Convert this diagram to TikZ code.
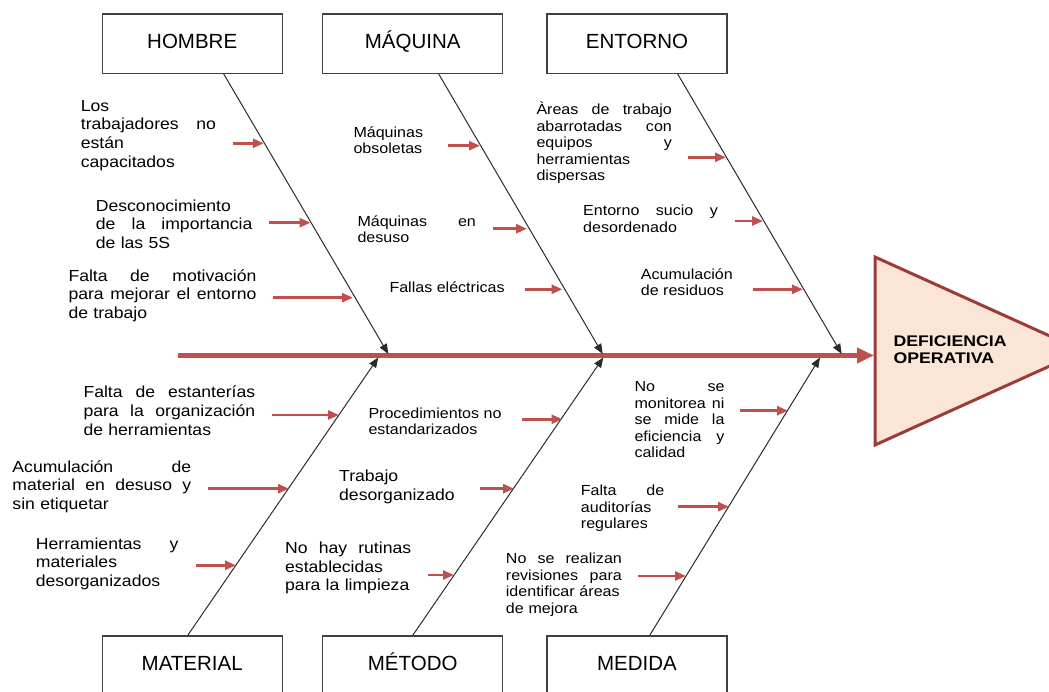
\documentclass[tikz,border=0pt]{standalone}
\usepackage{fontspec}
\setmainfont{Liberation Sans}
\newfontfamily\causefont[FakeStretch=1.1]{Liberation Sans}
\newfontfamily\effectfont[FakeStretch=1.15]{Liberation Sans}
\usepackage{tikz}
\usetikzlibrary{arrows.meta}
\definecolor{spinered}{HTML}{C0504D}
\definecolor{headfill}{HTML}{FBE5D6}
\definecolor{headdraw}{HTML}{9C3B38}
\definecolor{bonegray}{HTML}{2B2B2B}
\definecolor{boxgray}{HTML}{404040}
\pgfdeclarelayer{edgelayer}
\pgfdeclarelayer{nodelayer}
\pgfsetlayers{edgelayer,nodelayer,main}
\tikzstyle{none}=[inner sep=0pt]
\tikzstyle{catbox}=[rectangle,draw=boxgray,line width=1.2,fill=white,minimum width=180,minimum height=59.3,inner sep=0pt,text height=14.7pt,text depth=5.8pt,font=\fontsize{20.5}{24}\selectfont]
\tikzstyle{bigcause}=[inner sep=0pt,anchor=north west,align=left,font=\causefont\fontsize{16}{18.6}\selectfont]
\tikzstyle{smallcause}=[inner sep=0pt,anchor=north west,align=left,font=\causefont\fontsize{14.6}{16.5}\selectfont]
\tikzstyle{effect}=[inner sep=0pt,anchor=north west,align=left,font=\effectfont\bfseries\fontsize{15.4}{16.8}\selectfont]
\tikzstyle{headtri}=[fill=headfill,draw=headdraw,line width=3,line join=miter]
\tikzstyle{spine}=[->,>={Triangle[length=17pt,width=15pt]},draw=spinered,line width=4.5]
\tikzstyle{bone}=[->,>={Triangle[length=10pt,width=8pt]},draw=bonegray,line width=1.0]
\tikzstyle{causearrow}=[->,>={Triangle[length=11pt,width=9pt]},draw=spinered,line width=2.6]

\begin{document}
\begin{tikzpicture}[x=1pt,y=-1pt]
	\useasboundingbox (0,0) rectangle (1049,692);
	\begin{pgfonlayer}{nodelayer}
		% category boxes
		\node [style=catbox] (hom) at (192.2,43.7) {HOMBRE};
		\node [style=catbox] (maq) at (412.7,43.7) {MÁQUINA};
		\node [style=catbox] (ent) at (637,43.7) {ENTORNO};
		\node [style=catbox] (mat) at (192.2,665.7) {MATERIAL};
		\node [style=catbox] (met) at (412.7,665.7) {MÉTODO};
		\node [style=catbox] (med) at (637,665.7) {MEDIDA};

		% bone ends
		\node [style=none] (homS) at (223.3,73.3) {};
		\node [style=none] (homT) at (388.3,354) {};
		\node [style=none] (maqS) at (438.3,73.3) {};
		\node [style=none] (maqT) at (602.7,354) {};
		\node [style=none] (entS) at (677.3,73.3) {};
		\node [style=none] (entT) at (841.7,354) {};
		\node [style=none] (matS) at (187.3,636) {};
		\node [style=none] (matT) at (378.3,357.5) {};
		\node [style=none] (metS) at (412.3,636) {};
		\node [style=none] (metT) at (603.3,357.5) {};
		\node [style=none] (medS) at (649.3,636) {};
		\node [style=none] (medT) at (820,357.5) {};

		% spine and head
		\node [style=none] (sp0) at (178.3,355.5) {};
		\node [style=none] (sp1) at (874,355.5) {};
		\node [style=none] (Htl) at (875,257) {};
		\node [style=none] (Hbl) at (875,445) {};
		\node [style=none] (Hap) at (1083,351) {};
		\node [style=effect] (eff) at (893.3,336) {DEFICIENCIA\\OPERATIVA};

		% HOMBRE
		\node [style=bigcause,text width=135] (h1) at (80.7,100) {Los\\ trabajadores\hfill no\\ están\\ capacitados};
		\node [style=bigcause,text width=156.5] (h2) at (95.7,199.3) {Desconocimiento\\ de\hfill la\hfill importancia\\ de las 5S};
		\node [style=bigcause,text width=188] (h3) at (68.3,269.3) {Falta\hfill de\hfill motivación\\ para\hfill mejorar\hfill el\hfill entorno\\ de trabajo};
		\node [style=none] (h1a) at (232.7,143.3) {};
		\node [style=none] (h1b) at (263.8,143.3) {};
		\node [style=none] (h2a) at (269,222.7) {};
		\node [style=none] (h2b) at (310.5,222.7) {};
		\node [style=none] (h3a) at (273,297.7) {};
		\node [style=none] (h3b) at (353,297.7) {};

		% MAQUINA
		\node [style=smallcause] (m1) at (353.3,126.5) {Máquinas\\ obsoletas};
		\node [style=smallcause,text width=118.4] (m2) at (357.3,215.5) {Máquinas\hfill en\\ desuso};
		\node [style=smallcause] (m3) at (389.3,281.5) {Fallas eléctricas};
		\node [style=none] (m1a) at (447.7,145.7) {};
		\node [style=none] (m1b) at (480,145.7) {};
		\node [style=none] (m2a) at (492.7,228.7) {};
		\node [style=none] (m2b) at (527,228.7) {};
		\node [style=none] (m3a) at (525,289.3) {};
		\node [style=none] (m3b) at (562.5,289.3) {};

		% ENTORNO
		\node [style=smallcause,text width=135.4] (e1) at (536.3,101.8) {Àreas\hfill de\hfill trabajo\\ abarrotadas\hfill con\\ equipos\hfill y\\ herramientas\\ dispersas};
		\node [style=smallcause,text width=134.7] (e2) at (583,204.8) {Entorno\hfill sucio\hfill y\\ desordenado};
		\node [style=smallcause] (e3) at (640.7,268.1) {Acumulación\\ de residuos};
		\node [style=none] (e1a) at (688.3,157.3) {};
		\node [style=none] (e1b) at (726,157.3) {};
		\node [style=none] (e2a) at (735,221) {};
		\node [style=none] (e2b) at (763,221) {};
		\node [style=none] (e3a) at (753.3,289.3) {};
		\node [style=none] (e3b) at (803,289.3) {};

		% MATERIAL
		\node [style=bigcause,text width=171.7] (t1) at (83.3,386) {Falta\hfill de\hfill estanterías\\ para\hfill la\hfill organización\\ de herramientas};
		\node [style=bigcause,text width=178.7] (t2) at (12.3,460.3) {Acumulación\hfill de\\ material\hfill en\hfill desuso\hfill y\\ sin etiquetar};
		\node [style=bigcause,text width=142.6] (t3) at (35.7,537.6) {Herramientas\hfill y\\ materiales\\ desorganizados};
		\node [style=none] (t1a) at (272.3,415) {};
		\node [style=none] (t1b) at (339,415) {};
		\node [style=none] (t2a) at (208.3,488.7) {};
		\node [style=none] (t2b) at (289,488.7) {};
		\node [style=none] (t3a) at (196,565.3) {};
		\node [style=none] (t3b) at (236,565.3) {};

		% METODO
		\node [style=smallcause] (p1) at (368.3,407.5) {Procedimientos no\\ estandarizados};
		\node [style=bigcause] (p2) at (339,470) {Trabajo\\ desorganizado};
		\node [style=bigcause,text width=126] (p3) at (285,542) {No\hfill hay\hfill rutinas\\ establecidas\\ para la limpieza};
		\node [style=none] (p1a) at (521.7,419.3) {};
		\node [style=none] (p1b) at (562.5,419.3) {};
		\node [style=none] (p2a) at (480,488.7) {};
		\node [style=none] (p2b) at (514,488.7) {};
		\node [style=none] (p3a) at (428.3,575) {};
		\node [style=none] (p3b) at (454,575) {};

		% MEDIDA
		\node [style=smallcause,text width=90] (d1) at (634.3,381.5) {No\hfill se\\ monitorea\hfill ni\\ se\hfill mide\hfill la\\ eficiencia\hfill y\\ calidad};
		\node [style=smallcause,text width=83.3] (d2) at (580.7,484.8) {Falta\hfill de\\ auditorías\\ regulares};
		\node [style=smallcause,text width=116] (d3) at (505.7,553.1) {No\hfill se\hfill realizan\\ revisiones\hfill para\\ identificar áreas\\ de mejora};
		\node [style=none] (d1a) at (740,410.7) {};
		\node [style=none] (d1b) at (788,410.7) {};
		\node [style=none] (d2a) at (678.3,506.7) {};
		\node [style=none] (d2b) at (729,506.7) {};
		\node [style=none] (d3a) at (638.3,576) {};
		\node [style=none] (d3b) at (686,576) {};
	\end{pgfonlayer}
	\begin{pgfonlayer}{edgelayer}
		\draw [style=headtri] (Htl.center) -- (Hap.center) -- (Hbl.center) -- cycle;
		\draw [style=spine] (sp0.center) to (sp1.center);
		\draw [style=bone] (homS.center) to (homT.center);
		\draw [style=bone] (maqS.center) to (maqT.center);
		\draw [style=bone] (entS.center) to (entT.center);
		\draw [style=bone] (matS.center) to (matT.center);
		\draw [style=bone] (metS.center) to (metT.center);
		\draw [style=bone] (medS.center) to (medT.center);
		\draw [style=causearrow] (h1a.center) to (h1b.center);
		\draw [style=causearrow] (h2a.center) to (h2b.center);
		\draw [style=causearrow] (h3a.center) to (h3b.center);
		\draw [style=causearrow] (m1a.center) to (m1b.center);
		\draw [style=causearrow] (m2a.center) to (m2b.center);
		\draw [style=causearrow] (m3a.center) to (m3b.center);
		\draw [style=causearrow] (e1a.center) to (e1b.center);
		\draw [style=causearrow] (e2a.center) to (e2b.center);
		\draw [style=causearrow] (e3a.center) to (e3b.center);
		\draw [style=causearrow] (t1a.center) to (t1b.center);
		\draw [style=causearrow] (t2a.center) to (t2b.center);
		\draw [style=causearrow] (t3a.center) to (t3b.center);
		\draw [style=causearrow] (p1a.center) to (p1b.center);
		\draw [style=causearrow] (p2a.center) to (p2b.center);
		\draw [style=causearrow] (p3a.center) to (p3b.center);
		\draw [style=causearrow] (d1a.center) to (d1b.center);
		\draw [style=causearrow] (d2a.center) to (d2b.center);
		\draw [style=causearrow] (d3a.center) to (d3b.center);
	\end{pgfonlayer}
\end{tikzpicture}
\end{document}
